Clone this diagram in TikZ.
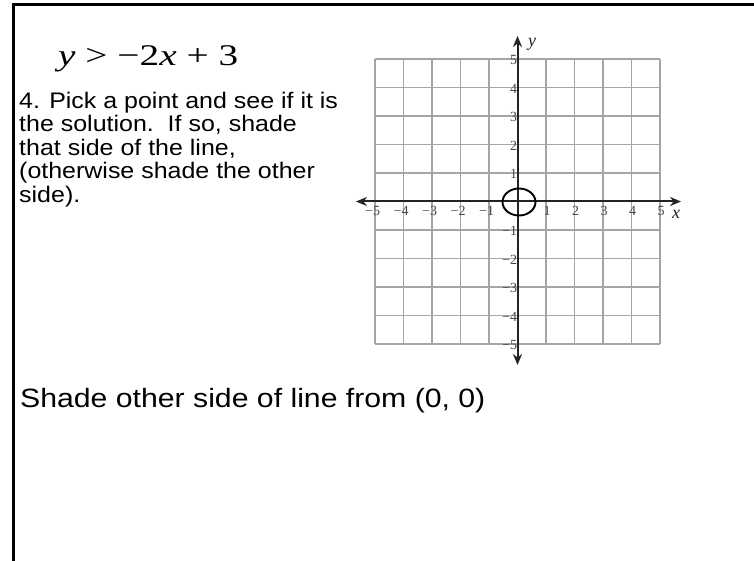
\documentclass[tikz,border=0pt]{standalone}
\usepackage{fontspec}
\setmainfont{Liberation Sans}
\newfontfamily\blockfont{Liberation Sans}[FakeStretch=1.11]
\newfontfamily\bigfont{Liberation Sans}[FakeStretch=1.14]
\newfontfamily\eqfont{Liberation Serif}[FakeStretch=1.31]
\newfontfamily\tickfont{Liberation Serif}
\usetikzlibrary{arrows.meta,shapes.geometric}
\definecolor{gridgray}{RGB}{165,165,165}
\definecolor{axisgray}{RGB}{35,35,35}
\definecolor{labgray}{RGB}{70,70,70}
\tikzset{
  frame/.style={line width=2.6pt,black},
  gridline/.style={gridgray,line width=1.1pt},
  axisline/.style={axisgray,line width=2pt,{Stealth[length=11pt,width=9pt]}-{Stealth[length=11pt,width=9pt]}},
  xlab/.style={font=\tickfont\fontsize{14}{14}\selectfont,text=labgray,inner sep=0pt,anchor=north},
  ylab/.style={font=\tickfont\fontsize{14}{14}\selectfont,text=labgray,inner sep=0pt,anchor=center},
  axlab/.style={font=\tickfont\itshape\fontsize{18}{18}\selectfont,text=axisgray,inner sep=0pt},
  blocktext/.style={font=\blockfont\fontsize{22.5}{23.5}\selectfont,align=left,inner sep=0pt,anchor=north west},
  bigtext/.style={font=\bigfont\fontsize{26.5}{30}\selectfont,inner sep=0pt,anchor=base west},
  eqtext/.style={font=\eqfont\fontsize{30}{34}\selectfont,inner sep=0pt,anchor=base west},
  pointmark/.style={draw=black,line width=1.9pt,ellipse,minimum width=33pt,minimum height=27pt,inner sep=0pt}
}
\begin{document}
\begin{tikzpicture}[x=1pt,y=-1pt]
\useasboundingbox (0,0) rectangle (754,561);
\fill[white] (0,0) rectangle (754,561);
% frame
\coordinate (fTL) at (13.5,4.5);
\coordinate (fTR) at (754,4.5);
\coordinate (fBL) at (13.5,561);
\draw[frame] (fTR) -- (fTL) -- (fBL);
% equation
\node[eqtext] (eq) at (58,65.5) {\textit{y} > −2\textit{x} + 3};
% instruction text
\node[blocktext] (step4) at (19,91.5) {4. Pick a point and see if it is\\the solution.\ \ If so, shade\\that side of the line,\\(otherwise shade the other\\side).};
% grid
\def\ox{517.5}
\def\oy{201.5}
\def\cs{28.5}
\foreach \i in {-5,...,5}{
  \draw[gridline] ({\ox+\i*\cs},{\oy-5*\cs}) -- ({\ox+\i*\cs},{\oy+5*\cs});
  \draw[gridline] ({\ox-5*\cs},{\oy+\i*\cs}) -- ({\ox+5*\cs},{\oy+\i*\cs});
}
% axes
\coordinate (xl) at (356,\oy);
\coordinate (xr) at (681,\oy);
\coordinate (yt) at (\ox,36);
\coordinate (yb) at (\ox,365);
\draw[axisline] (xl) -- (xr);
\draw[axisline] (yb) -- (yt);
\node[axlab] (xname) at (676,214) {x};
\node[axlab] (yname) at (532,44) {y};
% tick labels
\foreach \i in {1,...,5}{
  \node[xlab] (xp\i) at ({\ox+\i*\cs+1},{\oy+5}) {\i};
  \node[xlab] (xn\i) at ({\ox-\i*\cs+1.5},{\oy+5}) {\llap{−}\i};
  \node[ylab] (yp\i) at ({\ox-4},{\oy-\i*\cs+1}) {\i};
  \node[ylab] (yn\i) at ({\ox-4},{\oy+\i*\cs+1}) {\llap{−}\i};
}
% test point
\node[pointmark] (pt) at (519,202) {};
% answer
\node[bigtext] (ans) at (20,407) {Shade other side of line from (0, 0)};
\end{tikzpicture}
\end{document}
